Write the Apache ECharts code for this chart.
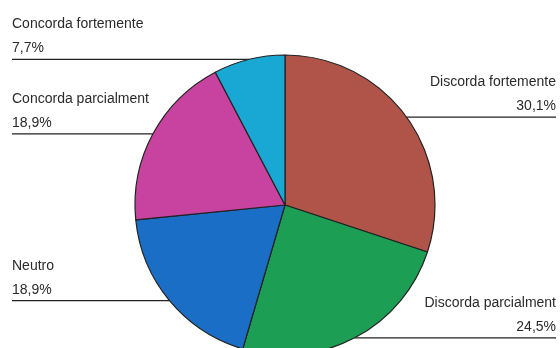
<!DOCTYPE html>
<html><head><meta charset="utf-8">
<script src="https://cdn.jsdelivr.net/npm/echarts@6/dist/echarts.min.js"></script>
<style>html,body{margin:0;padding:0;background:#fff}#c{width:560px;height:348px}</style>
</head><body><div id="c"></div>
<script>
var categories = ['Discorda fortemente', 'Discorda parcialment', 'Neutro', 'Concorda parcialment', 'Concorda fortemente'];
var values = [30.1, 24.5, 18.9, 18.9, 7.7];
var colors = ['#b0544a', '#1d9e55', '#1b6ec6', '#c8429f', '#19a8d3'];

var chart = echarts.init(document.getElementById('c'), null, {renderer: 'canvas'});
var data = categories.map(function (n, i) {
  return {name: n, value: values[i], itemStyle: {color: colors[i]}};
});
chart.setOption({
  animation: false,
  series: [{
    type: 'pie',
    center: [285, 205],
    radius: [0, 150],
    startAngle: 90,
    clockwise: true,
    avoidLabelOverlap: false,
    data: data,
    itemStyle: {borderColor: '#222', borderWidth: 1.2},
    label: {
      show: true,
      position: 'outside',
      fontFamily: 'Liberation Sans, Arial, sans-serif',
      fontSize: 14,
      color: '#2a2a2a',
      lineHeight: 24,
      formatter: function (p) {
        return p.name + '\n' + p.value.toFixed(1).replace('.', ',') + '%';
      }
    },
    labelLine: {show: true, length: 0, length2: 10, smooth: false,
      lineStyle: {color: '#222', width: 1.2}},
    emphasis: {disabled: true},
    labelLayout: function (p) {
      var pts = p.labelLinePoints;
      if (!pts) return {};
      var p0 = pts[0];
      var left = p0[0] < 285;
      var ex = left ? 12 : 556;
      return {
        x: ex,
        y: p0[1] + 1,
        align: left ? 'left' : 'right',
        verticalAlign: 'bottom',
        labelLinePoints: [[p0[0], p0[1]], [p0[0], p0[1]], [ex, p0[1]]]
      };
    }
  }]
});
</script></body></html>
